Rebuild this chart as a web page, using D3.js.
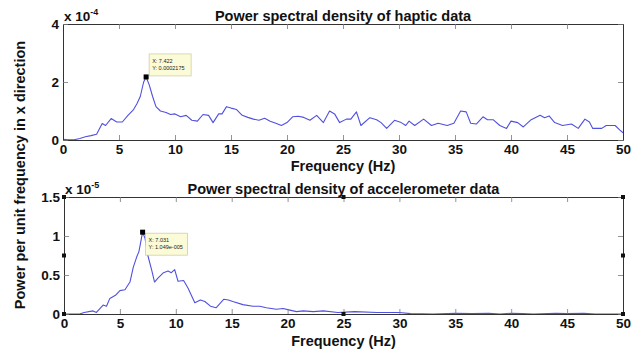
<!DOCTYPE html>
<html>
<head>
<meta charset="utf-8">
<script src="https://cdn.jsdelivr.net/npm/d3@7"></script>
<style>
  html, body { margin: 0; padding: 0; background: #fff; }
  svg { display: block; font-family: "Liberation Sans", Arial, sans-serif; }
  .tick-label { font-weight: bold; font-size: 13.5px; fill: #111; }
  .title { font-weight: bold; font-size: 14.5px; fill: #111; }
  .tip { font-size: 5.5px; fill: #222; }
</style>
</head>
<body>
<svg id="chart" width="642" height="356"></svg>
<script>
// Haptic PSD (units of 1e-4), frequency in Hz
const hapticFreq = [0, 0.5, 1, 1.5, 2, 2.5, 3, 3.5, 3.8, 4.3, 4.8, 5.3, 5.8, 6.3, 6.6, 6.9, 7.2, 7.422, 7.7, 8.0, 8.3, 8.7, 9.2, 9.6, 10, 10.5, 11, 11.5, 12, 12.5, 13, 13.4, 13.9, 14.2, 14.6, 15, 15.5, 16, 16.5, 17, 17.5, 18, 18.5, 19, 19.5, 20, 20.5, 21, 21.5, 22.05, 22.65, 23.25, 23.8, 24.25, 24.7, 25.3, 25.7, 26.2, 26.6, 27.4, 28, 28.4, 28.9, 29.6, 30.2, 30.6, 30.9, 31.4, 32.2, 32.9, 33.5, 34.3, 34.9, 35.5, 36, 36.4, 36.9, 37.5, 37.9, 38.4, 39, 39.6, 40, 40.6, 41.1, 41.8, 42.6, 43, 43.4, 43.9, 44.6, 45.4, 46, 46.6, 47, 47.3, 48.1, 48.5, 49.3, 49.7, 50];
const hapticPsd = [0.02, 0.01, 0.01, 0.05, 0.11, 0.15, 0.2, 0.57, 0.5, 0.74, 0.62, 0.62, 0.85, 1.05, 1.25, 1.5, 2.0, 2.175, 1.9, 1.5, 1.15, 1.0, 0.95, 0.88, 0.9, 0.8, 0.85, 0.68, 0.65, 0.88, 0.85, 0.6, 0.9, 0.9, 1.15, 1.1, 1.05, 0.85, 0.78, 0.72, 0.68, 0.75, 0.65, 0.58, 0.5, 0.6, 0.8, 0.82, 0.78, 0.68, 0.85, 0.6, 1.0, 0.9, 0.6, 0.72, 0.72, 0.97, 0.5, 0.77, 0.7, 0.6, 0.4, 0.68, 0.6, 0.5, 0.65, 0.5, 0.72, 0.5, 0.58, 0.5, 0.58, 1.0, 0.97, 0.58, 0.55, 0.8, 0.7, 0.7, 0.5, 0.4, 0.65, 0.6, 0.45, 0.7, 0.85, 0.77, 0.83, 0.6, 0.5, 0.55, 0.4, 0.72, 0.62, 0.4, 0.4, 0.5, 0.5, 0.35, 0.25];

// Accelerometer PSD (units of 1e-5), frequency in Hz
const accelFreq = [0, 1.4, 1.8, 2.6, 2.9, 3.5, 3.8, 4.1, 4.6, 5, 5.45, 5.9, 6.2, 6.5, 6.7, 7.031, 7.25, 7.5, 7.85, 8.1, 8.4, 8.9, 9.3, 9.6, 9.9, 10.2, 10.7, 11.1, 11.7, 12.2, 12.6, 13.1, 13.6, 14.3, 14.7, 15.1, 16, 16.9, 17.5, 18.1, 19, 19.6, 20.2, 20.8, 21.4, 22.3, 23.2, 24.5, 26, 28, 30, 31, 33, 35, 36.5, 38, 39, 40, 41, 42, 44, 45, 46.5, 47.5, 50];
const accelPsd = [0, 0, 0.02, 0.04, 0.02, 0.115, 0.1, 0.2, 0.24, 0.3, 0.31, 0.41, 0.6, 0.73, 0.8, 1.049, 0.97, 0.75, 0.56, 0.41, 0.46, 0.53, 0.55, 0.53, 0.57, 0.42, 0.43, 0.33, 0.145, 0.18, 0.16, 0.1, 0.08, 0.19, 0.18, 0.16, 0.12, 0.1, 0.1, 0.08, 0.06, 0.07, 0.05, 0.03, 0.04, 0.03, 0.04, 0.02, 0.03, 0.02, 0.02, 0.005, 0.0, 0.01, 0.005, 0.01, 0.0, 0.01, 0.005, 0.0, 0.01, 0.005, 0.01, 0.0, 0.0];

const xTicks = [0, 5, 10, 15, 20, 25, 30, 35, 40, 45, 50];
const hapticYTicks = [0, 2, 4];
const accelYTicks = [0, 0.5, 1, 1.5];

const hapticTip = { x: 7.422, y: 2.175, label: ["X: 7.422", "Y: 0.0002175"] };
const accelTip = { x: 7.031, y: 1.049, label: ["X: 7.031", "Y: 1.049e-005"] };

const svg = d3.select("#chart");
const lineColor = "#5050e0";

function drawPanel(cfg) {
  const x = d3.scaleLinear().domain([0, 50]).range([cfg.left, cfg.right]);
  const y = d3.scaleLinear().domain([0, cfg.ymax]).range([cfg.bottom, cfg.top]);
  const g = svg.append("g");

  // data line
  const line = d3.line().x((d, i) => x(cfg.freq[i])).y(d => y(d));
  g.append("path").datum(cfg.values)
    .attr("d", line).attr("fill", "none")
    .attr("stroke", lineColor).attr("stroke-width", 1.1)
    .attr("stroke-linejoin", "round");

  // axes box with inward ticks on all sides
  const tick = 5;
  const axB = d3.axisBottom(x).tickValues(xTicks).tickSizeInner(-tick).tickSizeOuter(0).tickFormat(d3.format("d"));
  const axT = d3.axisTop(x).tickValues(xTicks).tickSizeInner(-tick).tickSizeOuter(0).tickFormat("");
  const axL = d3.axisLeft(y).tickValues(cfg.yticks).tickSizeInner(-tick).tickSizeOuter(0).tickFormat(d => String(d));
  const axR = d3.axisRight(y).tickValues(cfg.yticks).tickSizeInner(-tick).tickSizeOuter(0).tickFormat("");

  const styleAxis = sel => {
    sel.select(".domain").attr("stroke", "#333").attr("stroke-width", 1);
    sel.selectAll(".tick line").attr("stroke", "#777").attr("stroke-width", 0.8);
    sel.selectAll(".tick text").attr("class", "tick-label").attr("font-family", null).attr("font-size", null);
  };
  g.append("g").attr("transform", `translate(0,${cfg.bottom})`).call(axB).call(styleAxis)
    .selectAll(".tick text").attr("dy", "0.3em").attr("y", 10);
  g.append("g").attr("transform", `translate(0,${cfg.top})`).call(axT).call(styleAxis);
  g.append("g").attr("transform", `translate(${cfg.left},0)`).call(axL).call(styleAxis)
    .selectAll(".tick text").attr("x", -4).attr("dy", "0.3em");
  g.append("g").attr("transform", `translate(${cfg.right},0)`).call(axR).call(styleAxis);

  // exponent annotation
  const ex = g.append("text").attr("class", "tick-label")
    .attr("x", cfg.left + 1).attr("y", cfg.top - 3);
  ex.append("tspan").text("x 10");
  ex.append("tspan").attr("dy", -6).attr("font-size", "9px").text(cfg.exp);

  // title
  g.append("text").attr("class", "title").attr("text-anchor", "middle")
    .attr("x", (cfg.left + cfg.right) / 2).attr("y", cfg.top - 3).text(cfg.title);

  // x label
  g.append("text").attr("class", "title").attr("text-anchor", "middle")
    .attr("x", (cfg.left + cfg.right) / 2).attr("y", cfg.bottom + cfg.xlabDy).text("Frequency (Hz)");

  // data tip
  const tx = x(cfg.tip.x), ty = y(cfg.tip.y);
  const bx = tx + cfg.tipDx, by = ty + cfg.tipDy;
  g.append("rect").attr("x", bx).attr("y", by).attr("width", 42).attr("height", 22)
    .attr("fill", "#fbfbd8").attr("stroke", "#c9c9a6").attr("stroke-width", 0.7);
  cfg.tip.label.forEach((t, i) => {
    g.append("text").attr("class", "tip").attr("x", bx + 3).attr("y", by + 9 + i * 7).text(t);
  });
  g.append("rect").attr("x", tx - 2.5).attr("y", ty - 2.5).attr("width", 5).attr("height", 5).attr("fill", "#000");

  return { x, y, g };
}

drawPanel({
  left: 63, right: 623, top: 24, bottom: 140, ymax: 4,
  freq: hapticFreq, values: hapticPsd, yticks: hapticYTicks, exp: "-4",
  title: "Power spectral density of haptic data", xlabDy: 31,
  tip: hapticTip, tipDx: 3, tipDy: -23
});

const p2 = drawPanel({
  left: 64, right: 623, top: 197, bottom: 314, ymax: 1.5,
  freq: accelFreq, values: accelPsd, yticks: accelYTicks, exp: "-5",
  title: "Power spectral density of accelerometer data", xlabDy: 32,
  tip: accelTip, tipDx: 3, tipDy: 1
});

// selection handles on the lower axes
const handles = [[0, 0], [25, 0], [50, 0], [0, 0.75], [50, 0.75], [0, 1.5], [25, 1.5], [50, 1.5]];
p2.g.selectAll(".handle").data(handles).join("rect")
  .attr("x", d => p2.x(d[0]) - 2).attr("y", d => p2.y(d[1]) - 2)
  .attr("width", 4).attr("height", 4).attr("fill", "#111");

// shared y label
svg.append("text").attr("class", "title")
  .attr("transform", "translate(25,175) rotate(-90)")
  .attr("text-anchor", "middle")
  .text("Power per unit frequency in x direction");
</script>
</body>
</html>
